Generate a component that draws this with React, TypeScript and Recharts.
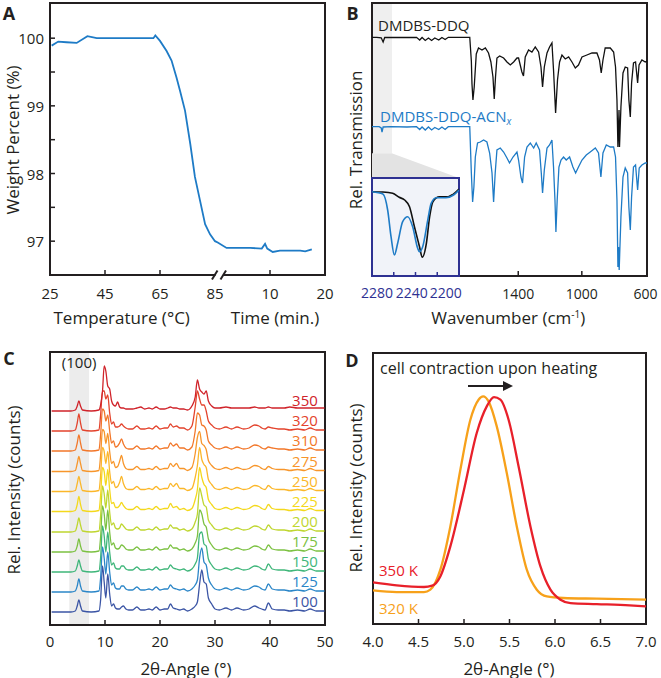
import React from 'react';
import { LineChart, Line, XAxis, YAxis, ReferenceArea, ReferenceDot, ReferenceLine } from 'recharts';

const FONT = '"Open Sans", "Liberation Sans", Arial, sans-serif';
const INK = '#231f20';
const NAVY = '#2e3192';
const BLUE = '#1e7bc6';

// ---------- A: TGA (temperature ramp, then isotherm in minutes) ----------
const tgaTempC = [25.6, 28, 31, 34.7, 38.6, 42, 50, 58, 62.6, 63.3, 65, 67.4, 69.2, 71, 72.3, 74.1, 76, 77.7, 79.5, 81.4, 83.2, 85];
const tgaTempWeight = [99.89, 99.95, 99.94, 99.93, 100.03, 100.0, 100.0, 100.0, 100.0, 100.04, 99.96, 99.81, 99.67, 99.42, 99.22, 98.93, 98.44, 97.95, 97.61, 97.25, 97.1, 97.0];
const tgaTimeMin = [0.5, 2.1, 4.5, 6.4, 8.5, 9.1, 9.5, 10.5, 11.8, 13.6, 15.5, 16.4, 17.6];
const tgaTimeWeight = [96.98, 96.9, 96.9, 96.9, 96.89, 96.96, 96.89, 96.84, 96.86, 96.86, 96.86, 96.85, 96.88];
const tgaTickLabels = ['25', '45', '65', '85', '10', '20'];
const tgaWeightTicks = [97, 97.5, 98, 98.5, 99, 99.5, 100];

// ---------- B: IR ----------
const irDdqWn = [2320, 2290, 2262, 2250, 2240, 2200, 2100, 2040, 2020, 2005, 1985, 1965, 1945, 1925, 1900, 1880, 1860, 1840, 1760, 1705, 1695, 1691, 1685, 1677, 1664, 1650, 1628, 1607, 1587, 1572, 1559, 1551, 1543, 1534, 1517, 1492, 1471, 1450, 1429, 1408, 1398, 1377, 1367, 1356, 1335, 1314, 1293, 1272, 1257, 1247, 1236, 1219, 1203, 1188, 1178, 1165, 1153, 1140, 1125, 1104, 1083, 1062, 1041, 1021, 999, 968, 936, 905, 889, 878, 867, 853, 821, 800, 788, 779, 773, 766, 763, 754, 741, 727, 712, 704, 695, 687, 675, 662, 649, 640, 622, 601, 590];
const irDdqT = [238.7, 238.7, 238.2, 234, 238.5, 238.7, 238.5, 238.7, 236, 238.5, 235.5, 238, 235.5, 238, 236, 238.5, 236.5, 238.7, 238.7, 238.7, 215, 192, 176, 189, 222, 228, 226, 228, 223, 214, 199, 177, 199, 218, 220, 218, 214, 211, 214, 218, 218, 204, 200, 219, 226, 224, 229, 224, 209, 189, 209, 223, 229, 233, 206, 163, 196, 214, 221, 217, 219, 214, 208, 211, 219, 221, 223, 223, 216, 203, 216, 228, 228, 224, 209, 176, 129, 166, 129, 169, 203, 209, 208, 176, 159, 193, 213, 214, 193, 211, 216, 214, 215];
const irAcnWn = [2320, 2275, 2262, 2257, 2250, 2200, 2100, 2040, 2020, 2005, 1985, 1965, 1945, 1925, 1900, 1880, 1860, 1840, 1760, 1705, 1695, 1687, 1679, 1670, 1656, 1639, 1618, 1597, 1580, 1565, 1555, 1545, 1534, 1513, 1492, 1471, 1455, 1433, 1408, 1398, 1383, 1373, 1360, 1345, 1324, 1303, 1287, 1266, 1255, 1247, 1236, 1219, 1203, 1188, 1178, 1169, 1163, 1155, 1144, 1131, 1115, 1098, 1077, 1056, 1039, 1021, 999, 972, 947, 915, 895, 880, 867, 846, 821, 800, 788, 779, 773, 769, 765, 754, 741, 727, 712, 704, 695, 687, 675, 662, 649, 639, 622, 601, 590];
const irAcnT = [149.3, 149.3, 148, 144, 149, 149.3, 149, 149.3, 146.5, 149, 146, 149, 146, 148.5, 146.5, 149, 146.5, 149.3, 149.3, 149.3, 103, 74, 89, 119, 133, 134, 136, 134, 123, 103, 74, 103, 126, 128, 124, 118, 113, 119, 124, 116, 99, 93, 119, 129, 133, 128, 133, 126, 103, 83, 106, 128, 131, 136, 109, 76, 44, 76, 109, 116, 119, 116, 119, 109, 103, 109, 116, 121, 124, 128, 123, 99, 123, 131, 129, 129, 119, 76, 9, 29, 6, 59, 99, 108, 103, 69, 46, 79, 109, 111, 86, 108, 111, 113, 113];
const irTicks = [1400, 1000, 600];

// inset: nitrile region
const insetDdqWn = [2280, 2270, 2261, 2255, 2250, 2245.5, 2241, 2236.3, 2233.8, 2230, 2227, 2224, 2218, 2210, 2205.5, 2200];
const insetDdqT = [84.3, 84, 82.7, 78.7, 76, 69.3, 49.3, 29.3, 18.7, 32.7, 59.3, 74.3, 79.3, 79.3, 81.7, 87];
const insetAcnWn = [2280, 2270, 2265.6, 2262.5, 2259.4, 2256.4, 2251.8, 2247.2, 2242.6, 2238, 2236.4, 2233.4, 2228.7, 2225.6, 2221, 2212, 2205, 2200];
const insetAcnT = [84.3, 82, 66, 39.3, 21, 32.7, 54.3, 59.3, 49.3, 27.7, 24.3, 29.3, 56, 72.7, 78.3, 78.3, 81, 86];
const insetTicks = [2260, 2240, 2220];

// ---------- C: variable temperature PXRD ----------
const xrdAngle = [
  0.3, 3.8, 4.6, 4.95, 5.25, 5.55, 5.9, 7.5, 8.9, 9.2,
  9.55, 9.85, 10.15, 10.5, 10.85, 11.2, 11.55, 11.9, 12.3, 12.65,
  13.0, 13.35, 13.8, 14.3, 15.0, 15.8, 16.5, 17.2, 18.0, 18.6,
  19.3, 20.0, 20.8, 21.4, 21.9, 22.4, 23.0, 23.6, 24.3, 25.0,
  25.8, 26.4, 26.8, 27.2, 27.6, 28.0, 28.4, 28.8, 29.4, 30.0,
  30.8, 32.0, 33.0, 34.0, 35.2, 36.2, 37.2, 38.0, 38.5, 39.1,
  39.7, 40.4, 41.5, 42.6, 43.6, 45.0, 46.3, 47.3, 48.4, 49.9,
];
const xrd100 = [0, 0, 1, 6, 12, 6, 1, 0, 1, 12, 46, 30, 14, 38, 18, 6, 8, 4, 3, 3, 5, 6, 3, 2, 2, 5, 2, 2, 3, 2, 5, 2, 3, 3, 8, 4, 3, 2, 3, 1, 3, 6, 10, 28, 42, 30, 28, 14, 8, 3, 2, 4, 2, 4, 2, 3, 6, 4, 3, 2, 9, 3, 2, 2, 1, 2, 1, 3, 1, 1];
const xrd125 = [0, 0, 1, 6, 13, 6, 1, 0, 1, 14, 45, 34, 18, 40, 20, 7, 9, 4, 3, 3, 6, 6, 3, 2, 2, 5, 2, 2, 3, 2, 5, 2, 3, 3, 7, 4, 3, 2, 3, 1, 3, 7, 12, 34, 44, 30, 27, 14, 7, 3, 2, 4, 2, 4, 2, 3, 6, 5, 3, 2, 8, 3, 2, 2, 1, 2, 1, 3, 1, 1];
const xrd150 = [0, 0, 1, 6, 12, 6, 1, 0, 1, 14, 46, 36, 20, 40, 20, 7, 9, 4, 3, 3, 6, 6, 3, 2, 2, 5, 2, 2, 3, 2, 5, 2, 3, 3, 7, 4, 3, 2, 3, 1, 3, 8, 14, 38, 40, 28, 26, 13, 7, 3, 2, 4, 2, 4, 2, 3, 6, 5, 3, 2, 8, 3, 2, 2, 1, 2, 1, 3, 1, 1];
const xrd175 = [0, 0, 1, 6, 13, 6, 1, 0, 1, 15, 46, 38, 22, 42, 20, 7, 9, 4, 3, 4, 7, 6, 3, 2, 2, 5, 2, 2, 3, 2, 5, 2, 3, 3, 7, 4, 4, 2, 3, 1, 3, 9, 16, 42, 38, 28, 25, 13, 7, 3, 2, 4, 2, 4, 2, 3, 6, 5, 3, 2, 7, 3, 2, 2, 1, 2, 1, 3, 1, 1];
const xrd200 = [0, 0, 1, 7, 14, 7, 1, 0, 1, 16, 46, 38, 24, 42, 20, 7, 9, 4, 3, 4, 8, 6, 3, 2, 2, 5, 2, 2, 3, 2, 5, 2, 3, 3, 7, 4, 4, 2, 3, 1, 3, 10, 18, 44, 36, 27, 25, 12, 7, 3, 2, 4, 2, 4, 2, 3, 6, 5, 3, 2, 7, 3, 2, 2, 1, 2, 1, 3, 1, 1];
const xrd225 = [0, 0, 1, 7, 15, 7, 1, 0, 1, 16, 44, 40, 26, 42, 22, 8, 9, 4, 4, 6, 9, 6, 3, 2, 2, 5, 2, 2, 3, 2, 5, 2, 3, 3, 8, 4, 5, 2, 3, 1, 3, 12, 22, 44, 34, 27, 24, 12, 7, 3, 2, 4, 2, 4, 2, 3, 6, 5, 3, 2, 7, 3, 2, 2, 1, 2, 1, 3, 1, 1];
const xrd250 = [0, 0, 1, 8, 15, 8, 1, 0, 1, 16, 44, 40, 28, 40, 20, 8, 10, 4, 5, 9, 15, 8, 3, 2, 2, 5, 2, 2, 3, 2, 5, 2, 3, 3, 8, 5, 8, 3, 3, 1, 3, 14, 26, 44, 32, 27, 24, 12, 7, 3, 2, 4, 2, 4, 2, 3, 6, 5, 3, 2, 6, 3, 2, 2, 1, 2, 1, 3, 1, 1];
const xrd275 = [0, 0, 1, 8, 15, 8, 1, 0, 1, 16, 42, 40, 28, 38, 20, 8, 10, 4, 5, 10, 16, 8, 3, 2, 2, 5, 2, 2, 3, 2, 5, 2, 3, 3, 8, 5, 8, 3, 3, 1, 4, 18, 34, 40, 28, 26, 22, 11, 6, 3, 2, 4, 2, 4, 2, 3, 6, 5, 3, 2, 5, 3, 2, 2, 1, 2, 1, 3, 1, 1];
const xrd310 = [0, 0, 1, 8, 16, 8, 1, 0, 1, 16, 42, 40, 30, 36, 20, 8, 10, 4, 5, 8, 12, 7, 3, 2, 2, 5, 2, 2, 3, 2, 5, 2, 3, 3, 8, 5, 7, 3, 3, 1, 4, 20, 38, 36, 26, 25, 21, 10, 6, 3, 2, 4, 2, 4, 2, 3, 6, 5, 3, 2, 4, 3, 2, 2, 1, 2, 1, 3, 1, 1];
const xrd320 = [0, 0, 1, 8, 17, 8, 1, 0, 1, 16, 40, 40, 32, 36, 18, 7, 9, 4, 4, 5, 7, 5, 3, 2, 2, 5, 2, 2, 3, 2, 5, 2, 3, 3, 7, 4, 5, 3, 3, 1, 5, 24, 40, 32, 26, 26, 20, 10, 6, 3, 2, 4, 2, 4, 2, 3, 6, 5, 3, 2, 4, 3, 2, 2, 1, 2, 1, 3, 1, 1];
const xrd350 = [0, 0, 1, 5, 10, 5, 1, 0, 1, 6, 20, 45, 40, 25, 22, 10, 6, 5, 9, 4, 3, 3, 2, 2, 2, 3, 4, 2, 3, 2, 4, 2, 2, 3, 4, 3, 3, 2, 2, 1, 5, 14, 31, 22, 19, 17, 20, 10, 5, 3, 3, 4, 3, 3, 3, 3, 4, 3, 3, 3, 4, 3, 3, 3, 4, 3, 3, 3, 3, 3];
const xrdTemps = ['100', '125', '150', '175', '200', '225', '250', '275', '310', '320', '350'];
const xrdSeries = [xrd100, xrd125, xrd150, xrd175, xrd200, xrd225, xrd250, xrd275, xrd310, xrd320, xrd350];
const xrdOffsets = [13, 33, 53, 73, 93, 113.5, 133.5, 153.5, 174, 194, 214];
const xrdColors = ['#3b55a5', '#2b86c8', '#3fb67a', '#7cc142', '#bfd630', '#f4d81c', '#fbb72a', '#f7962b', '#f2772a', '#e3432c', '#d0232a'];
const xrdTicks = [0, 10, 20, 30, 40, 50];

// ---------- D: (100) reflection ----------
const d320Angle = [4.0, 4.26, 4.56, 4.63, 4.74, 4.85, 4.96, 5.07, 5.16, 5.21, 5.27, 5.36, 5.47, 5.58, 5.69, 5.8, 5.91, 6.09, 6.46, 7.0];
const d320I = [33.6, 31.9, 31.9, 34.3, 54.3, 97.6, 154.3, 204.3, 224.3, 227.6, 222.6, 197.6, 151, 97.6, 54.3, 34.3, 27.6, 26, 25.3, 24.3];
const d350Angle = [4.0, 4.26, 4.56, 4.65, 4.74, 4.85, 5.0, 5.14, 5.25, 5.33, 5.4, 5.49, 5.6, 5.73, 5.84, 5.95, 6.06, 6.17, 6.46, 6.82, 7.0];
const d350I = [41.6, 38.6, 37, 38.3, 47.6, 77.6, 134.3, 191, 217.6, 226.9, 224.3, 204.3, 157.6, 97.6, 57.6, 34.3, 24.3, 20.9, 19.9, 18.6, 17.6];
const dTicks = [4, 4.5, 5, 5.5, 6, 6.5, 7];

// broken axis in A: 25-85 °C -> 0..3, then minutes -> 3..5
const tgaData = [
  ...tgaTempC.map((t, i) => ({ pos: (t - 25) / 20, w: tgaTempWeight[i] })),
  ...tgaTimeMin.map((m, i) => ({ pos: 3 + m / 10, w: tgaTimeWeight[i] })),
];
const irDdq = irDdqWn.map((wn, i) => ({ wn, t: irDdqT[i] }));
const irAcn = irAcnWn.map((wn, i) => ({ wn, t: irAcnT[i] }));
const insetDdq = insetDdqWn.map((wn, i) => ({ wn, t: insetDdqT[i] }));
const insetAcn = insetAcnWn.map((wn, i) => ({ wn, t: insetAcnT[i] }));
const xrdRows = xrdAngle.map((a, i) => {
  const row: any = { a };
  xrdSeries.forEach((s, k) => { row['t' + xrdTemps[k]] = xrdOffsets[k] + s[i]; });
  return row;
});
const d320 = d320Angle.map((a, i) => ({ a, v: d320I[i] }));
const d350 = d350Angle.map((a, i) => ({ a, v: d350I[i] }));

// inward tick marks, labels below
const bottomTick = (label: (v: number) => string, marks: number[], dy: number, size = 15) => (p: any) => {
  const v = p.payload.value;
  const s = label(v);
  return (
    <g>
      {marks.includes(v) && <line x1={p.x} x2={p.x} y1={p.y} y2={p.y - 5} stroke={INK} strokeWidth={1.5} />}
      {s ? (
        <text x={p.x} y={p.y + dy} textAnchor="middle" dominantBaseline="central" fontSize={size} fontFamily={FONT} fill={INK}>
          {s}
        </text>
      ) : null}
    </g>
  );
};

const leftTick = (p: any) => {
  const v = p.payload.value;
  return (
    <g>
      <line x1={p.x} x2={p.x + 5} y1={p.y} y2={p.y} stroke={INK} strokeWidth={1.5} />
      {Number.isInteger(v) && (
        <text x={p.x - 6} y={p.y} textAnchor="end" dominantBaseline="central" fontSize={15} fontFamily={FONT} fill={INK}>
          {v}
        </text>
      )}
    </g>
  );
};

function Txt({ x, y, children, size = 17, color = INK, align = 'center', rotate = false, bold = false }: any) {
  const tx = align === 'left' ? '0' : align === 'right' ? '-100%' : '-50%';
  return (
    <div
      style={{
        position: 'absolute', left: x, top: y, whiteSpace: 'nowrap', lineHeight: 1,
        fontFamily: FONT, fontSize: size, color, fontWeight: bold ? 700 : 400,
        transform: `translate(${tx}, -50%)` + (rotate ? ' rotate(-90deg)' : ''),
      }}
    >
      {children}
    </div>
  );
}

const abs = (left: number, top: number): React.CSSProperties => ({ position: 'absolute', left, top });

export default function App() {
  return (
    <div style={{ position: 'absolute', left: 0, top: 0, width: 661, height: 678, background: '#fff', overflow: 'hidden', fontFamily: FONT }}>
      {/* A */}
      <div style={abs(0, 0)}>
        <LineChart width={345} height={340} data={tgaData} margin={{ top: 3, right: 20, bottom: 35, left: 10 }}>
          <XAxis dataKey="pos" type="number" domain={[0, 5]} ticks={[0, 1, 2, 3, 4, 5]} interval={0} height={30}
            allowDataOverflow tickSize={0} tickMargin={0} tickLine={false} axisLine={false}
            tick={bottomTick((v) => tgaTickLabels[v], [1, 2, 4], 18)} />
          <YAxis type="number" domain={[96.5, 100.52]} ticks={tgaWeightTicks} interval={0} width={40}
            allowDataOverflow tickSize={0} tickMargin={0} tickLine={false} axisLine={false} tick={leftTick} />
          <ReferenceArea x1={0} x2={5} y1={96.5} y2={100.52} fill="none" stroke={INK} strokeWidth={2} />
          <Line dataKey="w" type="linear" stroke={BLUE} strokeWidth={1.8} dot={false} isAnimationActive={false} />
        </LineChart>
      </div>

      {/* B */}
      <div style={abs(330, 0)}>
        <LineChart width={331} height={340} margin={{ top: 3, right: 14, bottom: 34, left: 42 }}>
          <XAxis dataKey="wn" type="number" domain={[590, 2320]} reversed ticks={irTicks} interval={0} height={30}
            allowDataOverflow tickSize={0} tickMargin={0} tickLine={false} axisLine={false}
            tick={bottomTick((v) => String(v), [1400, 1000], 17, 14)} />
          <YAxis hide width={0} type="number" domain={[0, 273]} allowDataOverflow />
          <ReferenceArea x1={2194} x2={2320} y1={123} y2={273} fill="#efefef" fillOpacity={1} stroke="none" />
          <ReferenceArea x1={590} x2={2320} y1={0} y2={273} fill="none" stroke={INK} strokeWidth={2} />
          <Line data={irDdq} dataKey="t" type="linear" stroke="#111" strokeWidth={1.3} dot={false} isAnimationActive={false} />
          <Line data={irAcn} dataKey="t" type="linear" stroke={BLUE} strokeWidth={1.3} dot={false} isAnimationActive={false} />
        </LineChart>
      </div>
      <svg style={{ position: 'absolute', left: 0, top: 0 }} width={661} height={678}>
        <polygon points="372,153.3 391.7,153.3 459,178 372,178" fill="#e3e3e3" />
      </svg>
      {/* B inset */}
      <div style={{ ...abs(371, 177), background: '#f1f3f9' }}>
        <LineChart width={89} height={100} margin={{ top: 1, right: 1, bottom: 1, left: 1 }}>
          <XAxis hide height={0} dataKey="wn" type="number" domain={[2200, 2280]} reversed allowDataOverflow />
          <YAxis hide width={0} type="number" domain={[0, 98]} allowDataOverflow />
          {insetTicks.map((t) => (
            <ReferenceLine key={t} segment={[{ x: t, y: 0 }, { x: t, y: 4 }]} stroke={NAVY} strokeWidth={1.5} />
          ))}
          <Line data={insetDdq} dataKey="t" type="monotone" stroke="#111" strokeWidth={1.6} dot={false} isAnimationActive={false} />
          <Line data={insetAcn} dataKey="t" type="monotone" stroke={BLUE} strokeWidth={1.6} dot={false} isAnimationActive={false} />
          <ReferenceArea x1={2200} x2={2280} y1={0} y2={98} fill="none" stroke={NAVY} strokeWidth={2} />
        </LineChart>
      </div>

      {/* C */}
      <div style={abs(0, 340)}>
        <LineChart width={345} height={338} data={xrdRows} margin={{ top: 12, right: 20, bottom: 23, left: 50 }}>
          <XAxis dataKey="a" type="number" domain={[0, 50]} ticks={xrdTicks} interval={0} height={30}
            allowDataOverflow tickSize={0} tickMargin={0} tickLine={false} axisLine={false}
            tick={bottomTick((v) => String(v), [10, 20, 30, 40], 16)} />
          <YAxis hide width={0} type="number" domain={[0, 273]} allowDataOverflow />
          <ReferenceArea x1={3.5} x2={7.1} y1={0} y2={273} fill="#ececec" fillOpacity={1} stroke="none"
            label={{ value: '(100)', position: 'insideTop', offset: 5, fill: INK, fontSize: 15, fontFamily: FONT }} />
          <ReferenceArea x1={0} x2={50} y1={0} y2={273} fill="none" stroke={INK} strokeWidth={2} />
          {xrdTemps.map((t, k) => (
            <Line key={t} dataKey={'t' + t} type="monotone" stroke={xrdColors[k]} strokeWidth={1.3} dot={false} isAnimationActive={false} />
          ))}
          {xrdTemps.map((t, k) => (
            <ReferenceDot key={'l' + t} x={48.7} y={xrdOffsets[k] + 11} r={0}
              shape={(p: any) => (
                <text x={p.cx} y={p.cy} textAnchor="end" dominantBaseline="central" fontSize={15} fontFamily={FONT} fill={xrdColors[k]}>{t}</text>
              )} />
          ))}
        </LineChart>
      </div>

      {/* D */}
      <div style={abs(330, 340)}>
        <LineChart width={331} height={338} margin={{ top: 13, right: 15, bottom: 24, left: 43 }}>
          <XAxis dataKey="a" type="number" domain={[4, 7]} ticks={dTicks} interval={0} height={30}
            allowDataOverflow tickSize={0} tickMargin={0} tickLine={false} axisLine={false}
            tick={bottomTick((v) => v.toFixed(1), [4.5, 5, 5.5, 6, 6.5], 16.5)} />
          <YAxis hide width={0} type="number" domain={[0, 271]} allowDataOverflow />
          <ReferenceArea x1={4} x2={7} y1={0} y2={271} fill="none" stroke={INK} strokeWidth={2} />
          <Line data={d320} dataKey="v" type="monotone" stroke="#f7a11a" strokeWidth={2.3} dot={false} isAnimationActive={false} />
          <Line data={d350} dataKey="v" type="monotone" stroke="#e8202a" strokeWidth={2.3} dot={false} isAnimationActive={false} />
        </LineChart>
      </div>

      {/* decorations: axis break in A, arrow in D */}
      <svg style={{ position: 'absolute', left: 0, top: 0 }} width={661} height={678}>
        <rect x={215.5} y={272} width={8} height={6} fill="#fff" />
        <line x1={212} y1={279.5} x2={217.5} y2={270.5} stroke={INK} strokeWidth={2} />
        <line x1={220.5} y1={279.5} x2={226} y2={270.5} stroke={INK} strokeWidth={2} />
        <line x1={468} y1={386} x2={505} y2={386} stroke={INK} strokeWidth={2} />
        <polygon points="503,381 513,386 503,391" fill={INK} />
      </svg>

      {/* panel letters */}
      <Txt x={9} y={12.5} size={18} bold>A</Txt>
      <Txt x={352.5} y={12.5} size={18} bold>B</Txt>
      <Txt x={9} y={357.5} size={18} bold>C</Txt>
      <Txt x={352} y={360} size={18} bold>D</Txt>

      {/* A texts */}
      <Txt x={11.7} y={140} rotate>Weight Percent (%)</Txt>
      <Txt x={121.7} y={316.7}>Temperature (°C)</Txt>
      <Txt x={275} y={316.7}>Time (min.)</Txt>

      {/* B texts */}
      <Txt x={378} y={25} size={15} align="left">DMDBS-DDQ</Txt>
      <Txt x={380} y={117} size={15} align="left" color={BLUE}>
        DMDBS-DDQ-ACN<sub style={{ fontSize: 10, fontStyle: 'italic', verticalAlign: -3 }}>x</sub>
      </Txt>
      <Txt x={355} y={140} rotate>Rel. Transmission</Txt>
      <Txt x={377} y={293} size={14} color={NAVY}>2280</Txt>
      <Txt x={411.7} y={293} size={14} color={NAVY}>2240</Txt>
      <Txt x={445.7} y={293} size={14} color={NAVY}>2200</Txt>
      <Txt x={508.3} y={316.7}>
        Wavenumber (cm<sup style={{ fontSize: 10, verticalAlign: 6 }}>-1</sup>)
      </Txt>

      {/* C texts */}
      <Txt x={13.3} y={490} rotate>Rel. Intensity (counts)</Txt>
      <Txt x={186} y={668}>2θ-Angle (°)</Txt>

      {/* D texts */}
      <Txt x={380} y={368} size={16} align="left">cell contraction upon heating</Txt>
      <Txt x={379} y={570} size={15} align="left" color="#e8202a">350 K</Txt>
      <Txt x={379} y={607.7} size={15} align="left" color="#f7a11a">320 K</Txt>
      <Txt x={355} y={488} rotate>Rel. Intensity (counts)</Txt>
      <Txt x={509} y={668}>2θ-Angle (°)</Txt>
    </div>
  );
}
